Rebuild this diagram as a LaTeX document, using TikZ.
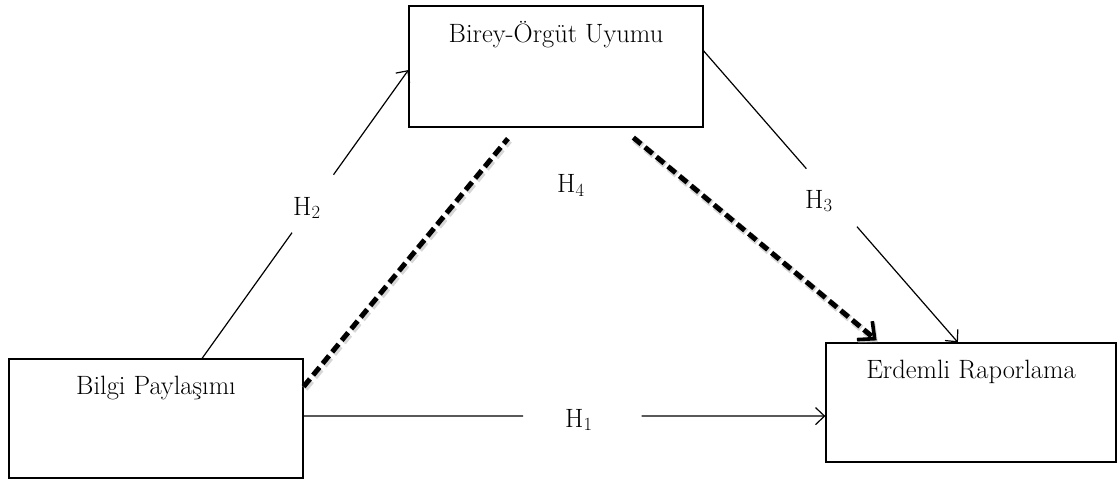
\documentclass[tikz,border=0pt]{standalone}
\usetikzlibrary{arrows.meta,calc}
\begin{document}
\begin{tikzpicture}[x=1pt,y=-1pt,
  box/.style={draw, line width=1.2pt, rectangle, inner sep=0pt},
  txt/.style={anchor=base, inner sep=0pt, font=\fontsize{26.5}{32}\selectfont},
  hyp/.style={anchor=base west, inner sep=0pt, font=\fontsize{26.5}{32}\selectfont},
  conn/.style={line width=1.2pt},
  arr/.style={conn, -{Straight Barb[length=9pt,width=17pt]}},
  dashedlink/.style={line width=5pt, dash pattern=on 10pt off 5pt},
  dashedarr/.style={dashedlink, -{Straight Barb[length=13pt,width=24pt,line width=3.6pt]}},
  haze/.style={draw=black!35, opacity=0.45, line width=7pt,
    transform canvas={shift={(1.2pt,-1.8pt)}}}
]
\useasboundingbox (0,0) rectangle (1118,481);

% the three constructs
\node[box, minimum width=294pt, minimum height=121pt] (bo) at (556,66.5) {};
\node[box, minimum width=294pt, minimum height=119pt] (bp) at (156,418.5) {};
\node[box, minimum width=290pt, minimum height=119pt] (er) at (971,402.5) {};

\node[txt] (bo-t) at ($(bo.north)+(0,37)$) {Birey-Örgüt Uyumu};
\node[txt] (bp-t) at ($(bp.north)+(0,36)$) {Bilgi Paylaşımı};
\node[txt] (er-t) at ($(er.north)+(0,36)$) {Erdemli Raporlama};

% end points of the hypothesis paths
\coordinate (h1a) at ($(bp.north east)!0.479!(bp.south east)$);
\coordinate (h1b) at ($(er.north west)!0.613!(er.south west)$);
\coordinate (h2a) at ($(bp.north west)!0.656!(bp.north east)$);
\coordinate (h2b) at ($(bo.north west)!0.529!(bo.south west)$);
\coordinate (h3a) at ($(bo.north east)!0.372!(bo.south east)$);
\coordinate (h3b) at ($(er.north west)!0.455!(er.north east)$);

% gaps left for the labels
\path (h1a) -- (h1b) coordinate[pos=0.4207] (h1c) coordinate[pos=0.648] (h1d);
\path (h2a) -- (h2b) coordinate[pos=0.436] (h2c) coordinate[pos=0.637] (h2d);
\path (h3a) -- (h3b) coordinate[pos=0.404] (h3c) coordinate[pos=0.603] (h3d);

% H1: direct effect
\draw[conn] (h1a) -- (h1c);
\draw[arr] (h1d) -- (h1b);
% H2
\draw[conn] (h2a) -- (h2c);
\draw[arr] (h2d) -- (h2b);
% H3
\draw[conn] (h3a) -- (h3c);
\draw[arr] (h3d) -- (h3b);

% H4: mediation path (dashed)
\coordinate (d1a) at ($(bp.north east)!0.235!(bp.south east)$);
\coordinate (d1b) at ($(bo.south west)!0.337!(bo.south east)+(0,11)$);
\coordinate (d2a) at ($(bo.south west)!0.762!(bo.south east)+(0,10)$);
\coordinate (d2b) at ($(er.north west)!0.176!(er.north east)+(0,-2)$);

\draw[dashedlink, haze] (d1a) -- (d1b);
\draw[dashedarr, haze] (d2a) -- (d2b);
\draw[dashedlink] (d1a) -- (d1b);
\draw[dashedarr] (d2a) -- (d2b);

% hypothesis labels
\node[hyp] (lh1) at (565,427) {H\textsubscript{1}};
\node[hyp] (lh2) at (293,215) {H\textsubscript{2}};
\node[hyp] (lh3) at (805,208) {H\textsubscript{3}};
\node[hyp] (lh4) at (557,193) {H\textsubscript{4}};
\end{tikzpicture}
\end{document}
